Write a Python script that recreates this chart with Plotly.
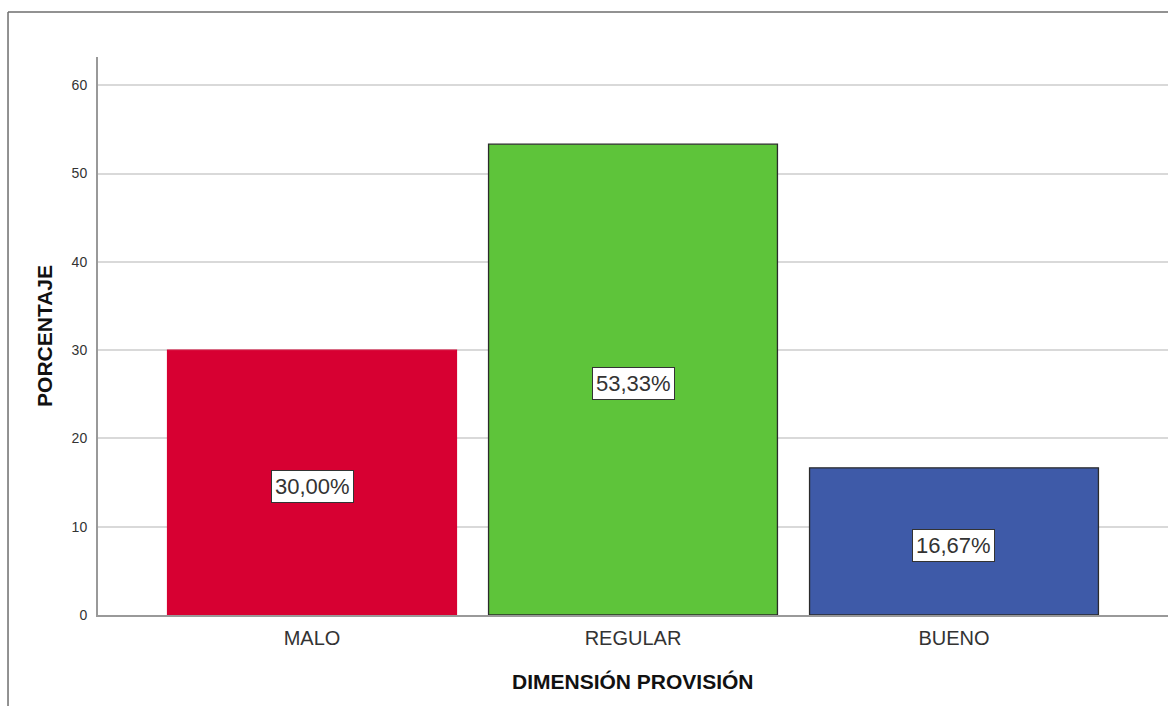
import plotly.graph_objects as go

categorias = ["MALO", "REGULAR", "BUENO"]
porcentajes = [30.00, 53.33, 16.67]
colores = ["#d70032", "#5ec43a", "#3e5aa8"]
bordes = ["#d70032", "#2b2b2b", "#2b2b2b"]
etiquetas = ["30,00%", "53,33%", "16,67%"]
y_ticks = [0, 10, 20, 30, 40, 50, 60]

FUENTE = "Arial, Liberation Sans"

fig = go.Figure()
fig.add_trace(go.Bar(
    x=categorias,
    y=porcentajes,
    width=0.9,
    marker=dict(color=colores, line=dict(color=bordes, width=1.3)),
    hoverinfo="skip",
))

# Value labels in white boxes centred in each bar
for cat, val, txt in zip(categorias, porcentajes, etiquetas):
    fig.add_annotation(
        x=cat, y=val / 2, yshift=-4, text=txt, showarrow=False,
        font=dict(family=FUENTE, size=22, color="#333333"),
        bgcolor="white", bordercolor="#333333", borderwidth=1, borderpad=3,
    )

# Axis titles
fig.add_annotation(
    xref="paper", yref="paper", x=0.5, y=-0.12, xanchor="center", yanchor="middle",
    text="<b>DIMENSIÓN PROVISIÓN</b>", showarrow=False,
    font=dict(family=FUENTE, size=21, color="#111111"),
)
fig.add_annotation(
    xref="paper", yref="paper", x=-0.0505, y=0.5, xanchor="center", yanchor="middle",
    text="<b>PORCENTAJE</b>", textangle=-90, showarrow=False,
    font=dict(family=FUENTE, size=21, color="#111111"),
)

# Outer frame (left and top edges)
fig.add_shape(type="line", xref="paper", yref="paper",
              x0=-0.0841, x1=-0.0841, y0=1.0806, y1=-0.2, line=dict(color="#6e6e6e", width=1.5))
fig.add_shape(type="line", xref="paper", yref="paper",
              x0=-0.0841, x1=1.02, y0=1.0806, y1=1.0806, line=dict(color="#6e6e6e", width=1.5))

fig.update_layout(
    width=1168, height=706,
    margin=dict(l=98, r=0, t=57, b=91),
    paper_bgcolor="white", plot_bgcolor="white",
    showlegend=False,
    font=dict(family=FUENTE, color="#333333"),
    bargap=0.1,
)
fig.update_xaxes(
    range=[-0.6667, 2.6667], showgrid=False, showline=True, linecolor="#999999", linewidth=2,
    ticks="", tickfont=dict(size=20, color="#333333"), ticklabelstandoff=4,
)
fig.update_yaxes(
    range=[0, 63.2], tickvals=y_ticks, showgrid=True, gridcolor="#d9d9d9", gridwidth=2,
    showline=True, linecolor="#999999", linewidth=2, ticks="", zeroline=False,
    tickfont=dict(size=14, color="#333333"), ticklabelstandoff=6,
)

fig.write_html("out.html")
